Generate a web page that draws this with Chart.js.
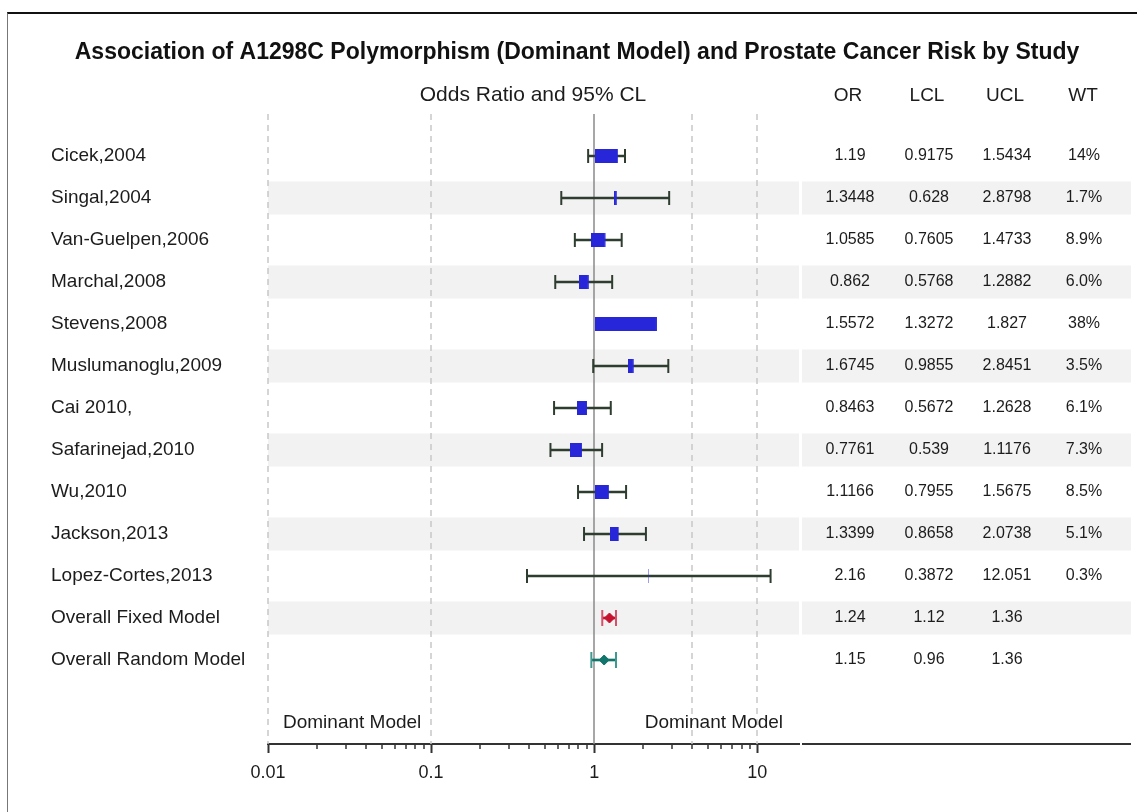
<!DOCTYPE html>
<html>
<head>
<meta charset="utf-8">
<title>A1298C Dominant Model forest plot</title>
<script src="https://cdn.jsdelivr.net/npm/chart.js"></script>
<style>
  html, body { margin: 0; padding: 0; background: #ffffff; }
  #wrap { position: relative; width: 1137px; height: 812px; overflow: hidden; }
  #wrap canvas { position: absolute; left: 0; top: 0; }
  #frame { position: absolute; left: 7px; top: 12px; right: -2px; bottom: -2px;
           border-top: 2px solid #111; border-left: 1px solid #777; pointer-events: none; }
</style>
</head>
<body>
<div id="wrap">
  <canvas id="forest" width="1137" height="812"></canvas>
  <div id="frame"></div>
</div>
<script>
// ---- data -------------------------------------------------------------
const titleText = 'Association of A1298C Polymorphism (Dominant Model) and Prostate Cancer Risk by Study';
const plotHeader = 'Odds Ratio and 95% CL';
const tableHeaders = ['OR', 'LCL', 'UCL', 'WT'];

const studies = ['Cicek,2004', 'Singal,2004', 'Van-Guelpen,2006', 'Marchal,2008', 'Stevens,2008',
  'Muslumanoglu,2009', 'Cai 2010,', 'Safarinejad,2010', 'Wu,2010', 'Jackson,2013', 'Lopez-Cortes,2013'];
const studyOR  = [1.19, 1.3448, 1.0585, 0.862, 1.5572, 1.6745, 0.8463, 0.7761, 1.1166, 1.3399, 2.16];
const studyLCL = [0.9175, 0.628, 0.7605, 0.5768, 1.3272, 0.9855, 0.5672, 0.539, 0.7955, 0.8658, 0.3872];
const studyUCL = [1.5434, 2.8798, 1.4733, 1.2882, 1.827, 2.8451, 1.2628, 1.1176, 1.5675, 2.0738, 12.051];
const studyWeight = [14, 1.7, 8.9, 6.0, 38, 3.5, 6.1, 7.3, 8.5, 5.1, 0.3];
const weightLabels = ['14%', '1.7%', '8.9%', '6.0%', '38%', '3.5%', '6.1%', '7.3%', '8.5%', '5.1%', '0.3%'];

const summaryNames = ['Overall Fixed Model', 'Overall Random Model'];
const summaryOR  = [1.24, 1.15];
const summaryLCL = [1.12, 0.96];
const summaryUCL = [1.36, 1.36];

const tickValues = [0.01, 0.1, 1, 10];
const tickLabels = ['0.01', '0.1', '1', '10'];
const referenceLines = [0.01, 0.1, 4, 10];
const nullValue = 1;
const sideLabel = 'Dominant Model';

// ---- styling ----------------------------------------------------------
const FONT = '"Liberation Sans", Arial, Helvetica, sans-serif';
const TEXT = '#1c1c1c';
const WHISKER = '#2f3d31';
const BOX_BLUE = '#2727d9';
const FIXED_RED = '#c4122f';
const RANDOM_TEAL = '#11756b';
const BOX_H = 14;
const PX_PER_PCT = 1.63;
const headerX = [848, 927, 1005, 1083];
const valueX = [850, 929, 1007, 1084];
const TABLE_LEFT = 802, TABLE_RIGHT = 1131;
const SIDE_ROW = 14.45;

// rows in drawing order (top to bottom)
const rowNames = studies.concat(summaryNames);
const rowOR = studyOR.concat(summaryOR);
const rowLCL = studyLCL.concat(summaryLCL);
const rowUCL = studyUCL.concat(summaryUCL);
const nStudies = studies.length;

const whiskerColor = i => i < nStudies ? WHISKER : (i === nStudies ? FIXED_RED : RANDOM_TEAL);
const capColor = i => i < nStudies ? WHISKER : (i === nStudies ? '#d6506a' : '#3f9990');

// weight-scaled study boxes as point images
function boxImage(w) {
  const c = document.createElement('canvas');
  c.width = Math.max(1, Math.ceil(w));
  c.height = BOX_H;
  const g = c.getContext('2d');
  g.fillStyle = BOX_BLUE;
  if (w < 1) g.globalAlpha = 0.45;
  g.fillRect(0, 0, Math.max(w, 1), BOX_H);
  return c;
}
const boxImages = studyWeight.map(w => boxImage(w * PX_PER_PCT));

const isDecade = v => tickValues.findIndex(t => Math.abs(Math.log10(v) - Math.log10(t)) < 1e-6);

// ---- decorations: bands, reference lines, table, labels ----------------
const forestDecor = {
  id: 'forestDecor',
  beforeDatasetsDraw(chart) {
    const { ctx, chartArea: a, scales: { x, y } } = chart;
    ctx.save();
    ctx.fillStyle = '#f2f2f2';
    rowNames.forEach((n, i) => {
      if ((i + 1) % 2 === 0) {
        const py = y.getPixelForValue(i + 1);
        ctx.fillRect(a.left, py - 16.5, a.right - a.left, 33);
        ctx.fillRect(TABLE_LEFT, py - 16.5, TABLE_RIGHT - TABLE_LEFT, 33);
      }
    });
    ctx.strokeStyle = '#c8c8c8';
    ctx.lineWidth = 1.5;
    ctx.setLineDash([6, 5]);
    referenceLines.forEach(v => {
      const px = Math.round(x.getPixelForValue(v));
      ctx.beginPath(); ctx.moveTo(px, a.top); ctx.lineTo(px, a.bottom); ctx.stroke();
    });
    ctx.setLineDash([]);
    ctx.strokeStyle = '#8a8a8a';
    const p1 = Math.round(x.getPixelForValue(nullValue));
    ctx.beginPath(); ctx.moveTo(p1, a.top); ctx.lineTo(p1, a.bottom); ctx.stroke();
    ctx.restore();
  },
  afterDraw(chart) {
    const { ctx, chartArea: a, scales: { x, y } } = chart;
    ctx.save();
    ctx.fillStyle = '#111';
    ctx.textBaseline = 'alphabetic';
    ctx.textAlign = 'center';
    ctx.font = 'bold 23px ' + FONT;
    ctx.fillText(titleText, 577, 59);

    ctx.fillStyle = TEXT;
    ctx.font = '21px ' + FONT;
    ctx.fillText(plotHeader, 533, 101);
    ctx.font = '19px ' + FONT;
    tableHeaders.forEach((h, k) => ctx.fillText(h, headerX[k], 101));

    // table values
    ctx.font = '16px ' + FONT;
    ctx.textBaseline = 'middle';
    rowNames.forEach((n, i) => {
      const py = y.getPixelForValue(i + 1);
      ctx.fillText(String(rowOR[i]), valueX[0], py);
      ctx.fillText(String(rowLCL[i]), valueX[1], py);
      ctx.fillText(String(rowUCL[i]), valueX[2], py);
      if (i < nStudies) ctx.fillText(weightLabels[i], valueX[3], py);
    });

    // direction labels above the axis
    ctx.font = '19px ' + FONT;
    ctx.textBaseline = 'alphabetic';
    const sy = y.getPixelForValue(SIDE_ROW) + 7;
    ctx.textAlign = 'left';
    ctx.fillText(sideLabel, a.left + 15, sy);
    ctx.textAlign = 'right';
    ctx.fillText(sideLabel, a.right - 16, sy);

    // minor log ticks
    ctx.strokeStyle = '#333';
    ctx.lineWidth = 1.5;
    for (let e = -2; e <= 1; e++) {
      for (let m = 2; m <= 9; m++) {
        const v = m * Math.pow(10, e);
        if (v > x.max) continue;
        const px = Math.round(x.getPixelForValue(v));
        ctx.beginPath(); ctx.moveTo(px, a.bottom); ctx.lineTo(px, a.bottom + 5); ctx.stroke();
      }
    }
    // table rule
    ctx.fillStyle = '#333';
    ctx.fillRect(TABLE_LEFT, a.bottom - 1, TABLE_RIGHT - TABLE_LEFT, 2);
    ctx.restore();
  }
};

// ---- chart ------------------------------------------------------------
const rowsIdx = rowNames.map((n, i) => i);

new Chart(document.getElementById('forest'), {
  type: 'scatter',
  data: {
    datasets: [
      {
        label: 'OR',
        order: 0,
        data: rowsIdx.map(i => ({ x: rowOR[i], y: i + 1 })),
        pointStyle: ctx => ctx.dataIndex < nStudies ? boxImages[ctx.dataIndex] : 'rectRot',
        radius: 5,
        backgroundColor: ctx => ctx.dataIndex === nStudies ? FIXED_RED : RANDOM_TEAL,
        borderColor: ctx => ctx.dataIndex === nStudies ? FIXED_RED : RANDOM_TEAL,
        borderWidth: 1
      },
      {
        label: 'CL caps',
        order: 1,
        data: rowsIdx.map(i => ({ x: rowLCL[i], y: i + 1 }))
          .concat(rowsIdx.map(i => ({ x: rowUCL[i], y: i + 1 }))),
        pointStyle: 'line',
        rotation: 90,
        radius: ctx => (ctx.dataIndex % rowNames.length) < nStudies ? 7 : 8,
        borderWidth: 2,
        borderColor: ctx => capColor(ctx.dataIndex % rowNames.length)
      },
      {
        type: 'bar',
        label: '95% CL',
        order: 2,
        indexAxis: 'y',
        grouped: false,
        data: rowsIdx.map(i => ({ x: [rowLCL[i], rowUCL[i]], y: i + 1 })),
        barThickness: 2,
        borderWidth: 0,
        backgroundColor: ctx => whiskerColor(ctx.dataIndex)
      }
    ]
  },
  options: {
    responsive: false,
    animation: false,
    events: [],
    layout: { padding: { left: 51, right: 338, top: 114, bottom: 0 } },
    plugins: { legend: { display: false }, tooltip: { enabled: false }, title: { display: false } },
    scales: {
      x: {
        type: 'logarithmic',
        position: 'bottom',
        min: 0.01,
        max: 18,
        offset: false,
        grid: {
          display: true,
          drawOnChartArea: false,
          drawTicks: true,
          tickLength: 9,
          tickWidth: 2,
          tickColor: ctx => (ctx.tick && isDecade(ctx.tick.value) >= 0) ? '#333' : 'rgba(0,0,0,0)'
        },
        border: { display: true, color: '#333', width: 2 },
        ticks: {
          autoSkip: false,
          maxRotation: 0,
          padding: 9,
          color: TEXT,
          font: { family: FONT, size: 18 },
          callback: v => { const k = isDecade(v); return k >= 0 ? tickLabels[k] : ''; }
        },
        afterFit: s => { s.height = 68; }
      },
      y: {
        type: 'linear',
        min: 0,
        max: 15,
        reverse: true,
        offset: false,
        grid: { display: false, offset: false },
        border: { display: false },
        ticks: {
          stepSize: 1,
          autoSkip: false,
          crossAlign: 'far',
          padding: 0,
          color: TEXT,
          font: { family: FONT, size: 19 },
          callback: v => rowNames[v - 1] || ''
        },
        afterFit: s => { s.width = 217; }
      }
    }
  },
  plugins: [forestDecor]
});
</script>
</body>
</html>
